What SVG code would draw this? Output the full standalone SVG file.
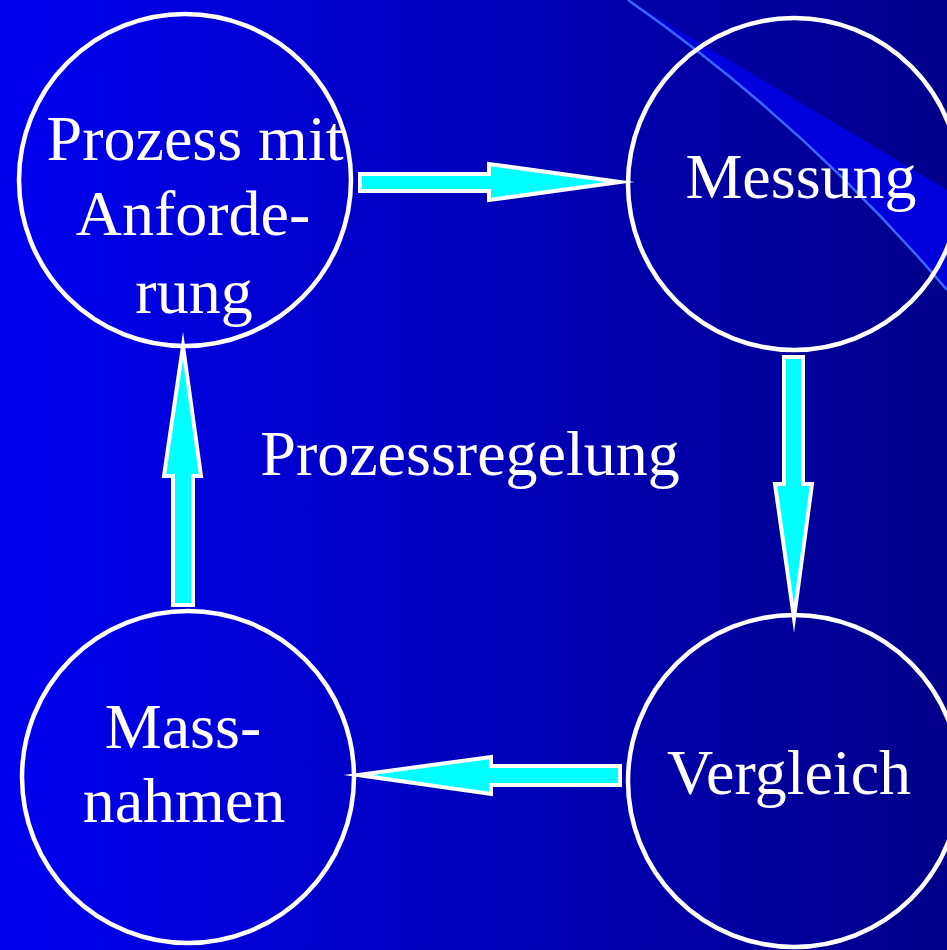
<svg xmlns="http://www.w3.org/2000/svg" width="947" height="950" viewBox="0 0 947 950">
<defs>
<linearGradient id="bg" x1="0" y1="0" x2="1" y2="0">
<stop offset="0" stop-color="#0000f0"/>
<stop offset="1" stop-color="#00008a"/>
</linearGradient>
<style>
.node{fill:none;stroke:#ffffff;stroke-width:4.5}
.lbl{font-family:"Liberation Serif","Times New Roman",serif;font-size:64px;fill:#ffffff;text-anchor:middle}
.arr{fill:#00ffff;stroke:#ffffff;stroke-width:4;stroke-linejoin:miter;stroke-miterlimit:20}
</style>
</defs>
<rect width="947" height="950" fill="url(#bg)"/>
<g id="swoosh">
<path d="M628,0 Q806,124 947,290 L947,190 Z" fill="#0000dd"/>
<path d="M628,0 Q806,124 947,290" fill="none" stroke="#3a66ff" stroke-width="2.5"/>
</g>
<g id="connectors">
<polygon class="arr" points="360,174 489,174 489,164 620,182 489,200 489,191 360,191"/>
<polygon class="arr" points="784,357 803,357 803,484 812,484 794,618 775,484 784,484"/>
<polygon class="arr" points="620,766 620,785 491,785 491,794 358,775 491,757 491,766"/>
<polygon class="arr" points="173,605 193,605 193,476 201,476 183,346 164,476 173,476"/>
</g>
<g id="node-prozess">
<circle class="node" cx="185" cy="180" r="166"/>
<text class="lbl" x="195" y="160">Prozess mit</text>
<text class="lbl" x="193" y="235">Anforde-</text>
<text class="lbl" x="194" y="313">rung</text>
</g>
<g id="node-messung">
<circle class="node" cx="794" cy="184" r="166"/>
<text class="lbl" x="801" y="198">Messung</text>
</g>
<g id="node-vergleich">
<circle class="node" cx="794" cy="781" r="166"/>
<text class="lbl" x="789" y="794">Vergleich</text>
</g>
<g id="node-massnahmen">
<circle class="node" cx="188" cy="777" r="166"/>
<text class="lbl" x="183" y="748">Mass-</text>
<text class="lbl" x="184" y="822">nahmen</text>
</g>
<g id="title">
<text class="lbl" x="470" y="475">Prozessregelung</text>
</g>
</svg>
